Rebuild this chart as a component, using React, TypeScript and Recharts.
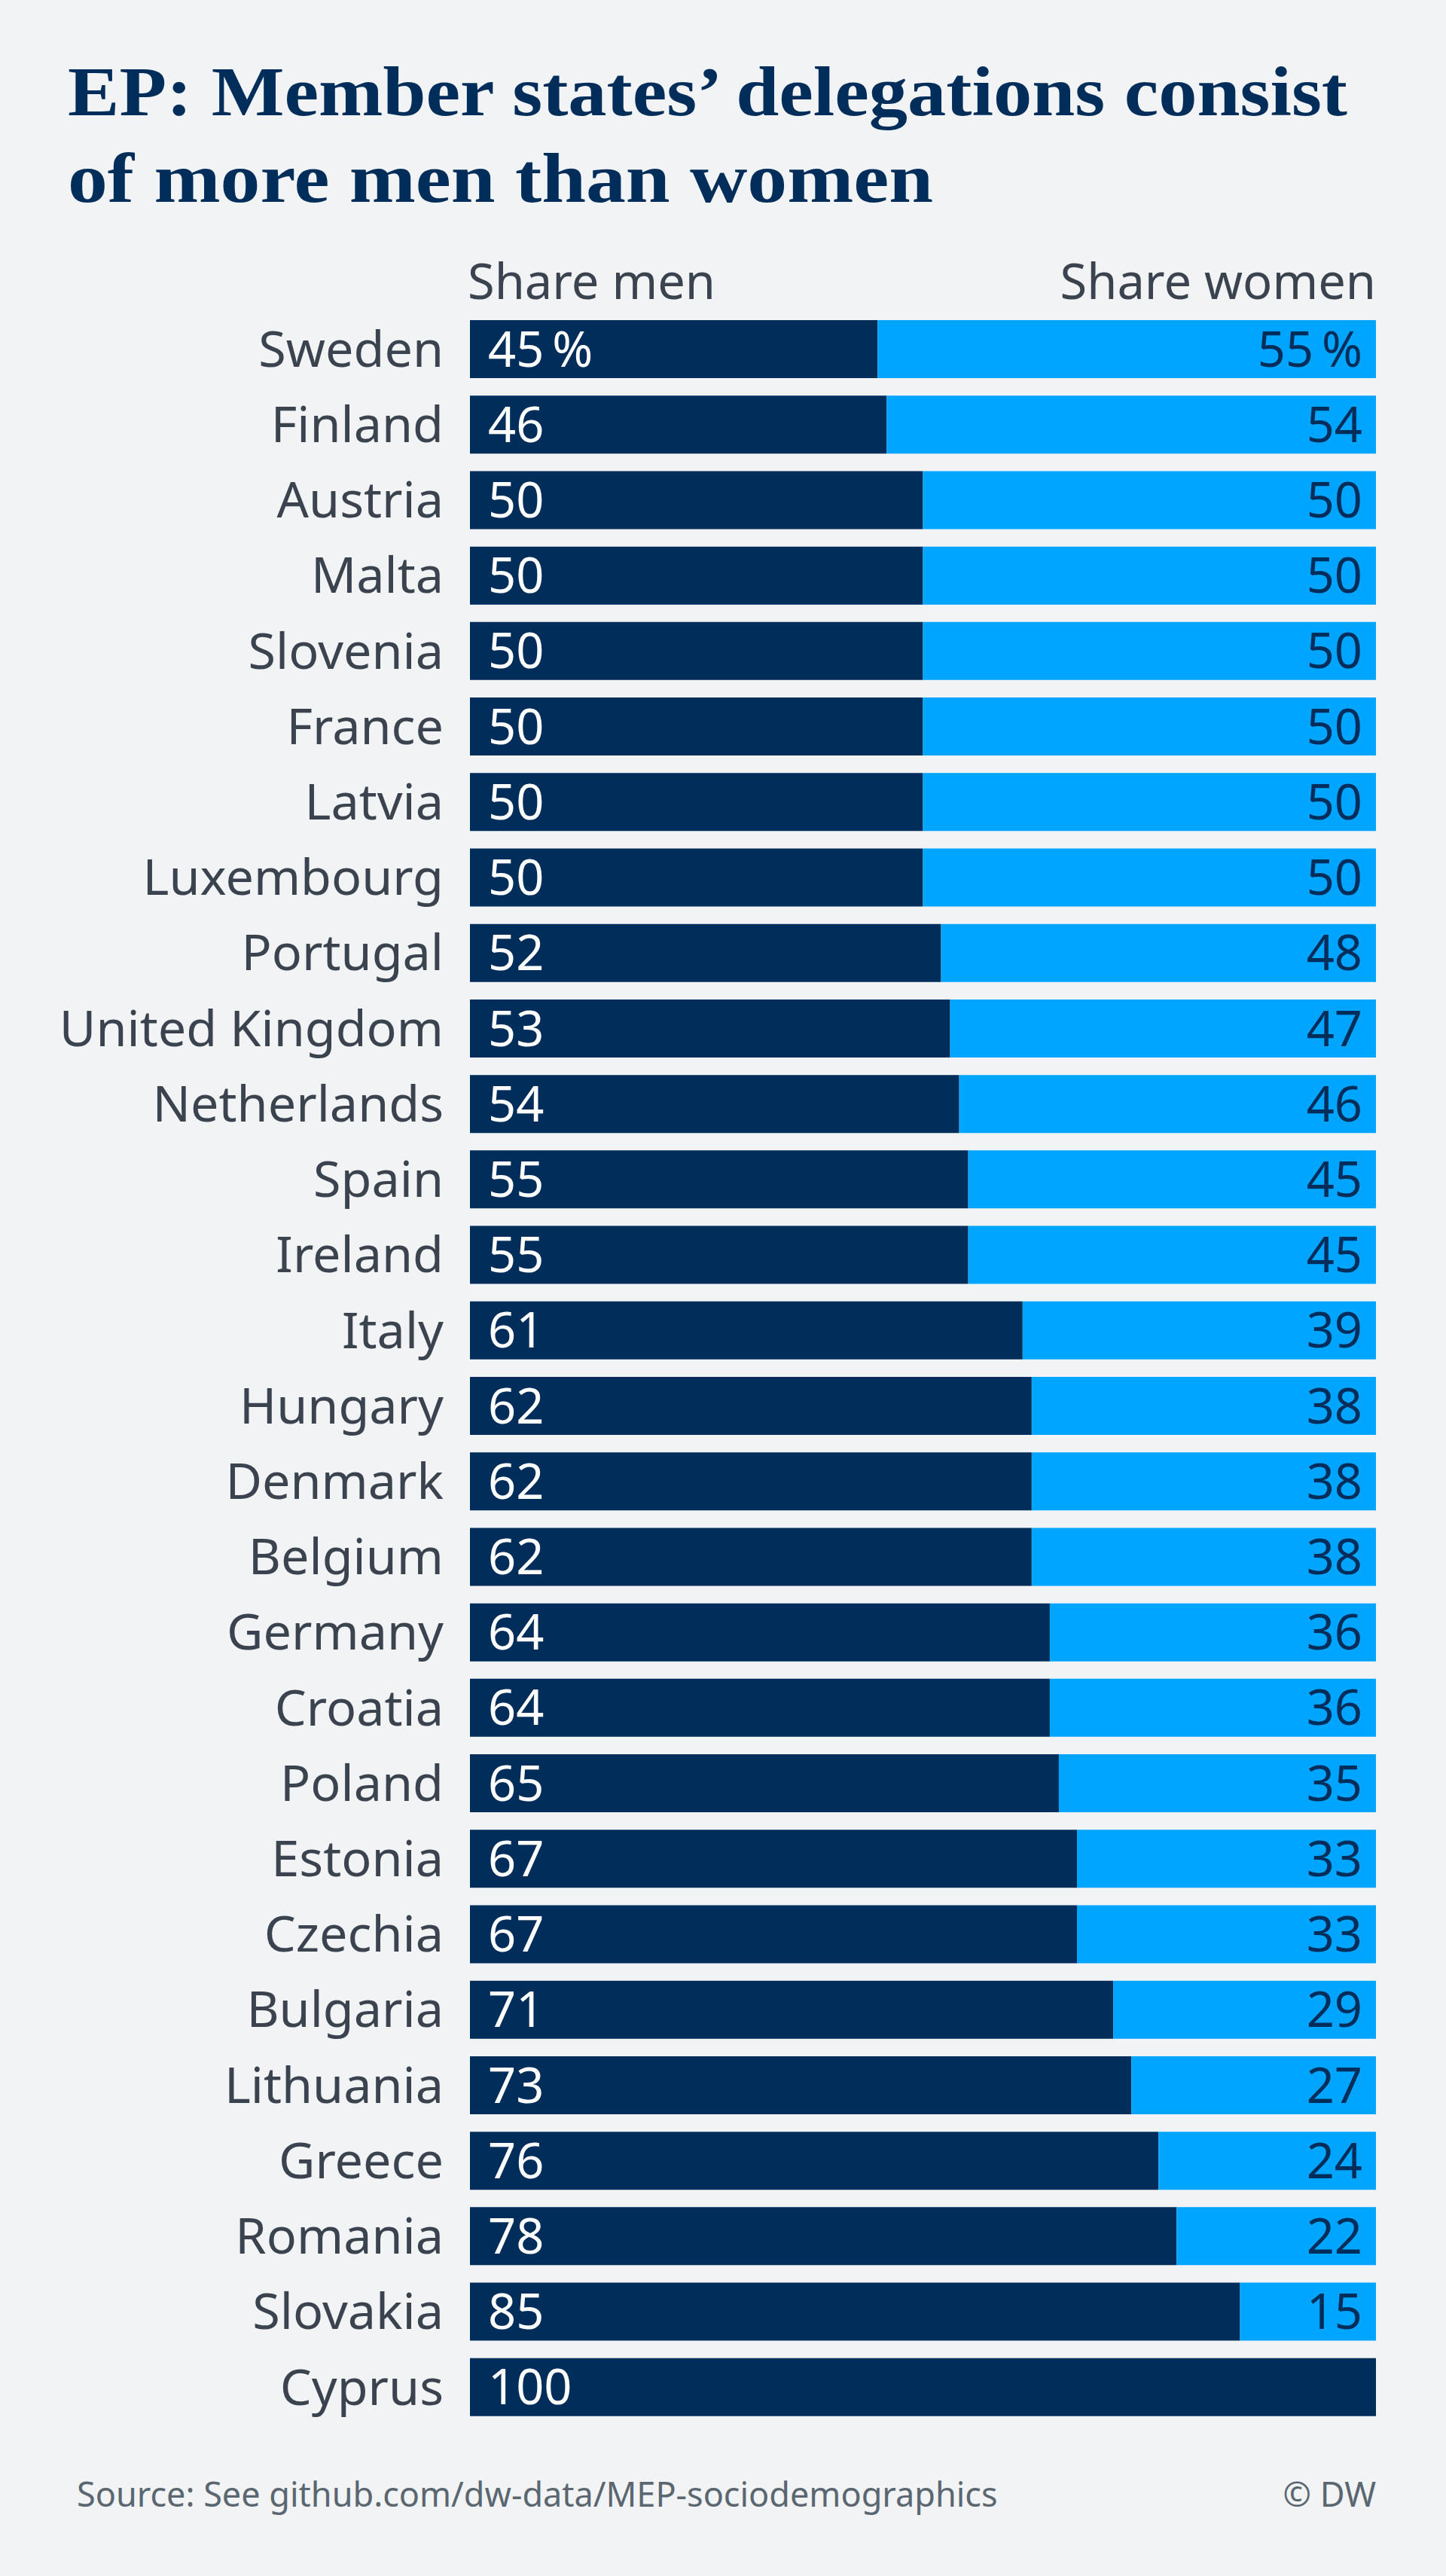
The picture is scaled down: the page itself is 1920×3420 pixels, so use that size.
import React from "react";
import { Bar, BarChart, LabelList, XAxis, YAxis } from "recharts";

const countries = [
  "Sweden", "Finland", "Austria", "Malta", "Slovenia", "France", "Latvia",
  "Luxembourg", "Portugal", "United Kingdom", "Netherlands", "Spain", "Ireland",
  "Italy", "Hungary", "Denmark", "Belgium", "Germany", "Croatia", "Poland",
  "Estonia", "Czechia", "Bulgaria", "Lithuania", "Greece", "Romania", "Slovakia",
  "Cyprus",
];

const shareMen = [
  45, 46, 50, 50, 50, 50, 50, 50, 52, 53, 54, 55, 55, 61, 62, 62, 62, 64, 64, 65,
  67, 67, 71, 73, 76, 78, 85, 100,
];

const shareWomen = [
  55, 54, 50, 50, 50, 50, 50, 50, 48, 47, 46, 45, 45, 39, 38, 38, 38, 36, 36, 35,
  33, 33, 29, 27, 24, 22, 15, 0,
];

const NAVY = "#002d5a";
const BLUE = "#00a5ff";
const BG = "#f1f3f5";
const FONT = "'Noto Sans', 'Open Sans', sans-serif";

const data = countries.map((name, i) => ({
  name,
  men: shareMen[i],
  women: shareWomen[i],
  menLabel: i === 0 ? `${shareMen[i]}\u202f%` : `${shareMen[i]}`,
  womenLabel: shareWomen[i] === 0 ? "" : i === 0 ? `${shareWomen[i]}\u202f%` : `${shareWomen[i]}`,
}));

export default function App() {
  return (
    <div style={{ position: "relative", width: 1920, height: 3420, background: BG, overflow: "hidden" }}>
      <style>{`body{margin:0}`}</style>
      <BarChart
        width={1920}
        height={3420}
        data={data}
        layout="vertical"
        margin={{ top: 413, right: 93, bottom: 201, left: 0 }}
        style={{ position: "absolute", left: 0, top: 0 }}
      >
        <XAxis type="number" domain={[0, 100]} hide />
        <YAxis
          type="category"
          dataKey="name"
          width={624}
          axisLine={false}
          tickLine={false}
          tickSize={0}
          tickMargin={35}
          interval={0}
          tick={{ fill: "#3a434e", fontSize: 66.5, fontFamily: FONT }}
        />
        <Bar dataKey="men" stackId="a" fill={NAVY} barSize={77} isAnimationActive={false}>
          <LabelList dataKey="menLabel" position="insideLeft" offset={24} fill="#ffffff" fontSize={65} fontFamily={FONT} />
        </Bar>
        <Bar dataKey="women" stackId="a" fill={BLUE} barSize={77} isAnimationActive={false}>
          <LabelList dataKey="womenLabel" position="insideRight" offset={18} fill={NAVY} fontSize={65} fontFamily={FONT} />
        </Bar>
      </BarChart>
      <svg width={1920} height={3420} style={{ position: "absolute", left: 0, top: 0, pointerEvents: "none" }}>
        <g fontFamily="'Liberation Serif', serif" fontWeight="bold" fill={NAVY} fontSize={94}>
          <text x={90} y={153} textLength={1699} lengthAdjust="spacingAndGlyphs">EP: Member states’ delegations consist</text>
          <text x={90} y={268} textLength={1149} lengthAdjust="spacingAndGlyphs">of more men than women</text>
        </g>
        <g fontFamily={FONT} fontSize={65} fill="#3a434e">
          <text x={621} y={397}>Share men</text>
          <text x={1827} y={397} textAnchor="end">Share women</text>
        </g>
        <g fontFamily={FONT} fontSize={45} fill="#5a6670">
          <text x={102} y={3328}>Source: See github.com/dw-data/MEP-sociodemographics</text>
          <text x={1827} y={3328} textAnchor="end">© DW</text>
        </g>
      </svg>
    </div>
  );
}
